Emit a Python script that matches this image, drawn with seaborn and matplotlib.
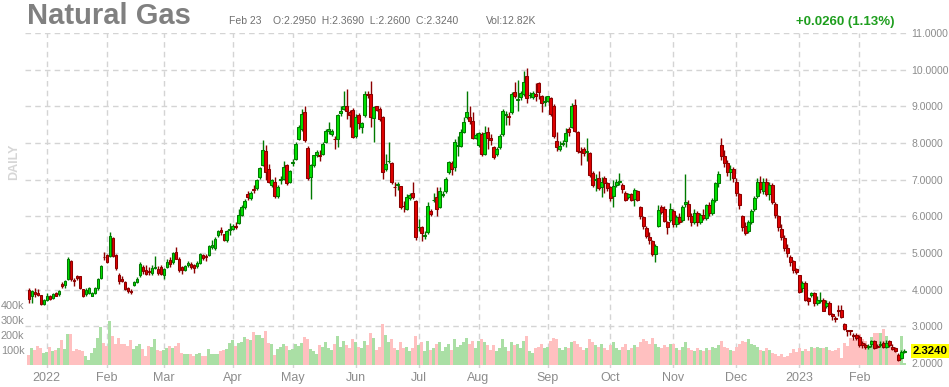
import numpy as np
import pandas as pd
import matplotlib
matplotlib.use("Agg")
import matplotlib.pyplot as plt
import seaborn as sns

# daily bars from Dec 23 2021 to Feb 23 2023, one row per month
opens = [
    4.00, 3.84, 3.93, 3.91, 3.85, 3.62,
    3.73, 3.82, 3.77, 3.91, 3.87, 4.15, 4.13, 4.29, 4.79, 4.25, 4.37, 4.36, 4.02, 3.87, 3.91, 3.84, 3.91, 4.04, 4.33, 4.90,
    4.94, 4.91, 5.41, 4.94, 4.40, 4.29, 4.22, 4.04, 3.97, 4.12, 4.21, 4.39, 4.62, 4.53, 4.50, 4.46, 4.60, 4.57, 4.62,
    4.41, 4.62, 4.80, 4.75, 5.03, 4.83, 4.62, 4.55, 4.66, 4.71, 4.66, 4.64, 4.74, 4.94, 4.92, 4.95, 5.16, 5.14, 5.48, 5.62, 5.51, 5.35, 5.62,
    5.65, 5.74, 5.82, 6.05, 6.25, 6.62, 6.50, 6.74, 6.76, 7.07, 7.41, 7.78, 7.28, 6.85, 6.95, 6.56, 6.98, 7.03, 7.40, 6.95,
    7.46, 7.57, 8.11, 8.38, 8.84, 7.86, 7.07, 7.39, 7.68, 7.68, 7.71, 8.04, 8.34, 8.25, 8.11, 8.11, 8.82, 8.93, 9.00, 8.84, 8.90,
    8.20, 8.77, 8.45, 8.77, 9.35, 9.35, 8.68, 9.00, 8.93, 8.72, 7.29, 7.50, 7.45, 6.80, 6.85, 6.82, 6.28, 6.20, 6.50, 6.64, 6.41,
    5.70, 5.70, 5.46, 5.56, 6.15, 6.44, 6.52, 6.26, 6.58, 6.68, 7.20, 7.45, 7.34, 7.92, 7.91, 8.31, 8.70, 8.70, 8.61, 8.15,
    7.95, 8.25, 7.70, 8.29, 8.15, 7.88, 7.70, 7.88, 8.25, 8.76, 8.74, 8.84, 9.38, 9.18, 9.25, 9.34, 9.82, 9.30, 9.25, 9.35, 9.64, 9.27, 9.11,
    9.15, 9.22, 9.02, 8.06, 7.85, 7.98, 8.06, 8.38, 8.45, 9.05, 8.29, 7.78, 7.85, 7.75, 7.73, 7.18, 7.00, 7.04, 6.79, 7.04, 6.91,
    6.79, 6.55, 6.85, 6.93, 6.85, 6.64, 6.52, 6.61, 6.47, 6.70, 6.25, 5.97, 5.67, 5.45, 5.32, 4.97, 5.75, 6.25, 6.20, 5.84, 5.90,
    6.15, 5.78, 5.98, 5.90, 6.35, 6.35, 6.00, 5.85, 6.10, 5.85, 6.05, 5.95, 6.30, 6.10, 6.45, 6.90, 7.95, 7.65, 7.45, 7.20, 7.30,
    6.95, 6.60, 6.00, 5.75, 5.60, 5.85, 6.20, 6.55, 6.95, 6.70, 6.95, 6.60, 6.85, 6.35, 6.00, 5.65, 5.40, 5.15, 4.90, 4.77, 4.56,
    4.39, 4.05, 4.18, 3.77, 3.85, 3.91, 3.64, 3.68, 3.73, 3.55, 3.64, 3.34, 3.23, 3.45, 3.45, 3.06, 2.90, 2.89, 2.77, 2.77,
    2.70, 2.55, 2.48, 2.44, 2.52, 2.59, 2.46, 2.48, 2.55, 2.45, 2.59, 2.45, 2.41, 2.23, 2.15, 2.295,
]
highs = [
    4.05, 3.99, 4.04, 4.02, 3.86, 3.75,
    3.90, 3.86, 3.92, 3.95, 4.00, 4.22, 4.27, 4.88, 4.82, 4.31, 4.40, 4.38, 4.03, 4.05, 4.07, 3.95, 4.08, 4.31, 4.67, 5.03,
    4.98, 5.56, 5.43, 4.96, 4.45, 4.36, 4.25, 4.07, 4.02, 4.23, 4.35, 4.75, 4.67, 4.67, 4.62, 4.66, 4.92, 4.64, 4.66,
    4.59, 4.84, 4.89, 5.03, 5.16, 4.89, 4.65, 4.66, 4.79, 4.75, 4.71, 4.78, 5.01, 4.98, 4.98, 5.23, 5.35, 5.44, 5.62, 5.71, 5.53, 5.62, 5.83,
    5.80, 5.84, 6.21, 6.30, 6.48, 6.70, 6.70, 6.85, 7.03, 7.35, 8.09, 7.95, 7.43, 7.03, 7.07, 6.85, 7.09, 7.52, 7.43, 7.26,
    7.57, 8.03, 8.48, 8.93, 9.02, 7.93, 7.43, 7.68, 7.82, 7.80, 8.02, 8.39, 8.58, 8.39, 8.20, 8.79, 9.02, 9.43, 9.47, 8.90, 8.95,
    8.79, 8.81, 8.57, 9.43, 9.41, 9.70, 9.02, 9.02, 8.97, 8.75, 7.70, 8.02, 7.48, 6.93, 6.93, 6.84, 6.43, 6.61, 6.65, 6.95, 6.45,
    5.93, 5.74, 5.61, 6.38, 6.20, 6.65, 6.79, 6.79, 6.70, 7.07, 7.52, 7.52, 8.11, 8.20, 8.38, 8.70, 9.43, 9.02, 8.85, 8.27,
    8.31, 8.29, 8.47, 8.43, 8.24, 7.91, 7.88, 8.24, 8.93, 8.88, 8.84, 9.38, 9.67, 9.72, 9.43, 9.97, 10.04, 9.38, 9.43, 9.65, 9.67, 9.31, 9.29,
    9.29, 9.25, 9.07, 8.29, 8.06, 8.09, 8.40, 8.45, 9.10, 9.20, 8.34, 7.90, 7.88, 8.13, 7.75, 7.24, 7.16, 7.24, 7.07, 7.09, 6.95,
    6.84, 7.00, 7.02, 7.18, 6.90, 6.70, 6.65, 6.64, 6.76, 6.73, 6.29, 6.02, 5.73, 5.56, 5.36, 5.24, 6.30, 6.31, 6.27, 5.88, 6.36,
    6.20, 6.05, 6.10, 6.30, 7.15, 6.45, 6.10, 6.20, 6.15, 6.10, 6.20, 6.35, 6.40, 6.50, 6.95, 7.25, 8.15, 7.80, 7.55, 7.40, 7.35,
    7.05, 6.65, 6.05, 5.85, 5.90, 6.20, 6.55, 7.05, 7.10, 7.05, 7.05, 6.95, 6.90, 6.40, 6.05, 5.80, 5.50, 5.25, 4.95, 4.82, 4.60,
    4.41, 4.23, 4.23, 3.79, 3.95, 3.95, 3.82, 3.95, 3.77, 3.73, 3.68, 3.36, 3.27, 3.59, 3.59, 3.09, 2.91, 2.91, 2.82, 2.82,
    2.77, 2.59, 2.55, 2.52, 2.64, 2.64, 2.52, 2.59, 2.59, 2.64, 2.64, 2.52, 2.45, 2.27, 2.36, 2.369,
]
lows = [
    3.64, 3.65, 3.80, 3.84, 3.57, 3.59,
    3.70, 3.72, 3.74, 3.82, 3.84, 4.04, 4.04, 4.27, 4.25, 4.11, 4.27, 4.02, 3.80, 3.84, 3.88, 3.82, 3.88, 4.00, 4.30, 4.80,
    4.73, 4.89, 4.88, 4.55, 4.16, 4.20, 4.00, 3.91, 3.89, 4.10, 4.17, 4.34, 4.43, 4.40, 4.40, 4.40, 4.57, 4.40, 4.39,
    4.30, 4.59, 4.62, 4.71, 4.83, 4.48, 4.44, 4.50, 4.62, 4.57, 4.46, 4.59, 4.69, 4.82, 4.79, 4.92, 5.12, 5.07, 5.44, 5.48, 5.32, 5.30, 5.48,
    5.62, 5.66, 5.80, 6.00, 6.20, 6.45, 6.45, 6.64, 6.72, 7.02, 7.37, 6.98, 6.92, 6.80, 6.50, 6.49, 6.88, 6.98, 6.86, 6.92,
    7.37, 7.53, 8.07, 8.34, 8.02, 6.99, 6.48, 7.35, 7.62, 7.50, 7.66, 8.00, 8.25, 8.20, 7.84, 7.88, 8.75, 8.91, 8.66, 8.43, 8.14,
    8.15, 8.38, 8.26, 8.72, 9.24, 8.45, 8.02, 8.86, 8.60, 7.02, 7.25, 7.45, 6.88, 6.56, 6.72, 6.20, 6.11, 6.16, 6.45, 6.47, 5.35,
    5.61, 5.34, 5.38, 5.52, 6.02, 6.38, 6.00, 6.24, 6.52, 6.65, 7.16, 7.13, 7.25, 7.65, 7.88, 8.27, 8.66, 8.52, 8.11, 8.11,
    7.89, 7.64, 7.67, 7.84, 7.95, 7.56, 7.65, 7.85, 8.20, 8.50, 8.50, 8.79, 9.22, 8.88, 9.16, 9.29, 9.09, 9.24, 9.20, 9.15, 9.20, 8.85, 9.02,
    9.11, 8.75, 8.13, 7.79, 7.79, 7.91, 7.88, 8.20, 8.40, 8.30, 7.74, 7.40, 7.65, 7.51, 7.07, 6.79, 6.70, 6.73, 6.52, 6.64, 6.70,
    6.43, 6.25, 6.79, 6.85, 6.64, 6.43, 6.47, 6.43, 6.29, 6.43, 5.93, 5.65, 5.40, 5.25, 4.93, 4.75, 5.70, 6.07, 5.84, 5.52, 5.84,
    5.70, 5.70, 5.80, 5.85, 6.25, 5.90, 5.75, 5.80, 5.75, 5.80, 5.90, 5.90, 6.00, 6.05, 6.40, 6.80, 7.55, 7.35, 7.10, 7.00, 6.95,
    6.55, 6.20, 5.60, 5.50, 5.55, 5.80, 6.15, 6.50, 6.65, 6.60, 6.55, 6.45, 6.35, 5.95, 5.60, 5.35, 5.05, 4.90, 4.65, 4.45, 4.42,
    3.91, 3.95, 3.68, 3.59, 3.80, 3.55, 3.58, 3.64, 3.41, 3.50, 3.30, 3.18, 3.11, 3.27, 3.23, 2.91, 2.73, 2.77, 2.64, 2.64,
    2.45, 2.41, 2.39, 2.39, 2.43, 2.39, 2.41, 2.43, 2.41, 2.41, 2.45, 2.36, 2.30, 2.06, 2.11, 2.26,
]
closes = [
    3.75, 3.96, 3.87, 3.86, 3.60, 3.73,
    3.84, 3.75, 3.89, 3.84, 3.96, 4.11, 4.25, 4.85, 4.29, 4.24, 4.31, 4.04, 3.82, 4.00, 4.04, 3.91, 4.04, 4.29, 4.64, 4.88,
    4.76, 5.47, 4.91, 4.58, 4.25, 4.25, 4.02, 3.96, 3.93, 4.20, 4.30, 4.71, 4.50, 4.44, 4.47, 4.60, 4.61, 4.46, 4.44,
    4.57, 4.75, 4.71, 5.01, 4.85, 4.53, 4.55, 4.64, 4.74, 4.62, 4.59, 4.74, 4.98, 4.86, 4.89, 5.19, 5.23, 5.39, 5.60, 5.57, 5.35, 5.60, 5.65,
    5.75, 5.70, 6.05, 6.25, 6.42, 6.52, 6.65, 6.72, 6.98, 7.32, 7.82, 7.21, 6.95, 6.98, 6.56, 6.80, 7.02, 7.34, 6.92, 7.23,
    7.48, 7.98, 8.43, 8.79, 8.07, 7.05, 7.39, 7.66, 7.75, 7.64, 7.98, 8.34, 8.38, 8.34, 8.10, 8.76, 8.86, 9.00, 8.88, 8.76, 8.17,
    8.72, 8.54, 8.54, 9.34, 9.32, 8.72, 8.97, 8.90, 8.65, 7.20, 7.43, 7.52, 6.95, 6.79, 6.88, 6.25, 6.27, 6.54, 6.59, 6.52, 5.43,
    5.72, 5.54, 5.48, 6.29, 6.06, 6.45, 6.20, 6.68, 6.61, 7.02, 7.47, 7.29, 8.02, 7.93, 8.29, 8.56, 8.84, 8.59, 8.15, 8.22,
    8.27, 7.70, 8.27, 8.13, 8.09, 7.61, 7.84, 8.20, 8.88, 8.80, 8.70, 9.34, 9.27, 9.20, 9.36, 9.67, 9.22, 9.31, 9.36, 9.29, 9.38, 9.09, 9.15,
    9.27, 8.79, 8.18, 7.88, 7.93, 8.00, 8.27, 8.31, 9.00, 8.34, 7.79, 7.76, 7.73, 7.77, 7.13, 6.85, 7.02, 6.76, 6.95, 6.90, 6.76,
    6.49, 6.84, 6.95, 6.96, 6.75, 6.45, 6.61, 6.45, 6.73, 6.45, 6.02, 5.75, 5.47, 5.36, 4.97, 5.18, 6.18, 6.13, 5.88, 5.70, 6.20,
    5.78, 5.98, 5.85, 6.25, 6.40, 6.00, 5.85, 6.10, 5.85, 6.05, 5.95, 6.30, 6.10, 6.45, 6.90, 7.15, 7.65, 7.45, 7.20, 7.30, 7.05,
    6.65, 6.30, 5.70, 5.55, 5.85, 6.15, 6.50, 6.95, 6.75, 6.95, 6.60, 6.85, 6.40, 6.05, 5.70, 5.45, 5.15, 5.00, 4.75, 4.55, 4.48,
    3.95, 4.18, 3.73, 3.70, 3.91, 3.64, 3.73, 3.73, 3.43, 3.64, 3.34, 3.27, 3.21, 3.41, 3.25, 2.94, 2.87, 2.87, 2.73, 2.68,
    2.48, 2.48, 2.43, 2.45, 2.59, 2.41, 2.45, 2.52, 2.45, 2.55, 2.48, 2.39, 2.34, 2.09, 2.298, 2.324,
]
# volume in thousands
volumes_k = [
    67, 111, 100, 127, 116, 82,
    87, 120, 93, 100, 111, 167, 104, 209, 209, 93, 104, 100, 93, 60, 33, 82, 116, 178, 253, 149,
    127, 293, 193, 142, 178, 142, 142, 127, 164, 104, 127, 142, 104, 60, 127, 120, 171, 100, 93,
    100, 116, 127, 116, 127, 149, 82, 71, 76, 71, 60, 76, 82, 60, 60, 104, 76, 76, 76, 93, 98, 104, 149,
    164, 127, 149, 153, 187, 171, 164, 220, 200, 200, 178, 227, 149, 138, 67, 104, 122, 142, 127, 98,
    104, 142, 127, 149, 187, 171, 104, 93, 76, 130, 120, 150, 110, 100, 140, 190, 120, 160, 130, 110, 170,
    150, 120, 110, 160, 130, 210, 180, 100, 120, 270, 200, 150, 170, 110, 100, 150, 110, 120, 90, 110, 190,
    130, 150, 90, 160, 100, 110, 140, 150, 90, 120, 140, 100, 170, 120, 130, 150, 180, 140, 160, 110,
    160, 170, 150, 130, 100, 130, 90, 110, 170, 120, 90, 150, 130, 140, 110, 160, 190, 90, 80, 110, 120, 140, 110,
    120, 160, 180, 170, 110, 100, 120, 110, 150, 160, 140, 120, 100, 110, 170, 150, 130, 120, 140, 110, 100,
    130, 150, 110, 100, 120, 140, 100, 110, 130, 120, 150, 170, 160, 140, 180, 140, 120, 110, 130, 120, 140,
    140, 110, 100, 120, 150, 110, 100, 90, 110, 100, 90, 110, 100, 120, 110, 130, 160, 120, 110, 100, 90,
    120, 140, 160, 150, 170, 140, 130, 120, 100, 90, 110, 100, 80, 70, 60, 70, 53, 60, 82, 104, 89,
    111, 93, 104, 93, 120, 111, 120, 111, 111, 120, 98, 93, 98, 111, 49, 149, 127, 178, 164, 193,
    204, 171, 160, 111, 187, 216, 216, 216, 238, 193, 138, 111, 93, 71, 193, 12.82,
]

holidays = ["2021-12-24", "2022-01-17", "2022-02-21", "2022-04-15", "2022-05-30",
            "2022-06-20", "2022-07-04", "2022-09-05", "2022-11-24", "2022-12-26",
            "2023-01-02", "2023-01-16", "2023-02-20"]

dates = pd.bdate_range("2021-12-23", "2023-02-23")
dates = dates[~dates.isin(pd.to_datetime(holidays))]

df = pd.DataFrame({"date": dates, "open": opens, "high": highs, "low": lows,
                   "close": closes, "volume": np.array(volumes_k) * 1000.0})
df["pos"] = np.arange(len(df))
df["dir"] = np.where(df["close"] >= df["open"], "up", "down")

# month starts for grid and labels
firsts = df.groupby(df["date"].dt.to_period("M"))["pos"].min().iloc[1:]
month_pos = firsts.values
month_lab = [str(p.year) if p.month == 1 else p.strftime("%b") for p in firsts.index]

sns.set_theme(style="white")
plt.rcParams["font.family"] = ["Liberation Sans", "DejaVu Sans"]

W, H = 949, 387
fig = plt.figure(figsize=(W / 100, H / 100), dpi=100)
rect = [25 / W, (H - 368) / H, (908 - 25) / W, (368 - 33) / H]
ax_vol = fig.add_axes(rect)
ax = fig.add_axes(rect)
ax.patch.set_visible(False)

xlim = (-1.23, 293.2)
grid_kw = dict(color="#d4d4d4", linestyle=(0, (4, 3)), linewidth=1, zorder=0)

# volume bars
sns.barplot(data=df, x="pos", y="volume", hue="dir",
            palette={"up": "#aadfa5", "down": "#ffc0c0"}, native_scale=True,
            dodge=False, width=1.0, linewidth=0, saturation=1, errorbar=None,
            legend=False, ax=ax_vol)
ax_vol.set_xlim(*xlim)
ax_vol.set_ylim(-20000, 2213333)
ax_vol.set_xlabel("")
ax_vol.set_ylabel("")
ax_vol.set_xticks([])
ax_vol.set_yticks([100000, 200000, 300000, 400000])
ax_vol.set_yticklabels(["100k", "200k", "300k", "400k"])
ax_vol.tick_params(axis="y", length=0, pad=0.5, labelsize=7.8, labelcolor="#8c8c8c")
for v in month_pos:
    ax_vol.axvline(v, **grid_kw)
ax_vol.hlines(range(3, 12), xlim[0], xlim[1], transform=ax.transData, **grid_kw)

# candles
up = df["dir"] == "up"
edge = np.where(up, "#007a00", "#8b0000")
body = np.where(up, "#00e000", "#e00000")
ax.vlines(df["pos"], df["low"], df["high"], colors=edge, linewidth=1, zorder=2)
bottoms = np.minimum(df["open"], df["close"])
heights = np.maximum((df["close"] - df["open"]).abs(), 0.015)
ax.bar(df["pos"], heights, bottom=bottoms, width=0.75, color=body,
       edgecolor=edge, linewidth=0.75, zorder=3)

ax.set_xlim(*xlim)
ax.set_ylim(2 - 5 / 36.67, 11.0)
ax.yaxis.tick_right()
ax.set_yticks(range(2, 12))
ax.set_yticklabels([f"{v:.4f}" for v in range(2, 12)])
ax.set_xticks(month_pos)
ax.set_xticklabels(month_lab)
ax.tick_params(axis="y", length=0, pad=2.5, labelsize=7.5, labelcolor="#8c8c8c")
ax.tick_params(axis="x", length=0, pad=3, labelsize=9, labelcolor="#8c8c8c")
for a in (ax, ax_vol):
    for s in a.spines.values():
        s.set_visible(False)

last = df.iloc[-1]
ax.annotate(f"{last['close']:.4f}", xy=(1, last["close"]), xycoords=("axes fraction", "data"),
            xytext=(3.5, 0), textcoords="offset points", ha="left", va="center",
            fontsize=8.2, fontweight="bold", color="black",
            bbox=dict(boxstyle="square,pad=0.15", fc="#ffff00", ec="none"))

# header
prev = df.iloc[-2]["close"]
chg = last["close"] - prev
fig.text(27 / W, 1 - 24 / H, "Natural Gas", fontsize=21, fontweight="bold", color="#808080", va="baseline")
fig.text(229 / W, 1 - 24 / H, last["date"].strftime("%b %d").replace(" 0", " "), fontsize=7.5, color="#707070", va="baseline")
fig.text(273 / W, 1 - 24 / H,
         f"O:{last['open']:.4f}  H:{last['high']:.4f}  L:{last['low']:.4f}  C:{last['close']:.4f}",
         fontsize=7.5, color="#707070", va="baseline")
fig.text(486 / W, 1 - 24 / H, f"Vol:{last['volume'] / 1000:.2f}K", fontsize=7.5, color="#707070", va="baseline")
fig.text(895 / W, 1 - 25 / H, f"+{chg:.4f} ({chg / prev * 100:.2f}%)", fontsize=9.5,
         fontweight="bold", color="#1e9e1e", ha="right", va="baseline")
fig.text(14 / W, 1 - 162 / H, "DAILY", rotation=90, fontsize=9, fontweight="bold",
         color="#d6d6d6", ha="center", va="center")

fig.savefig("out.png", dpi=100)
